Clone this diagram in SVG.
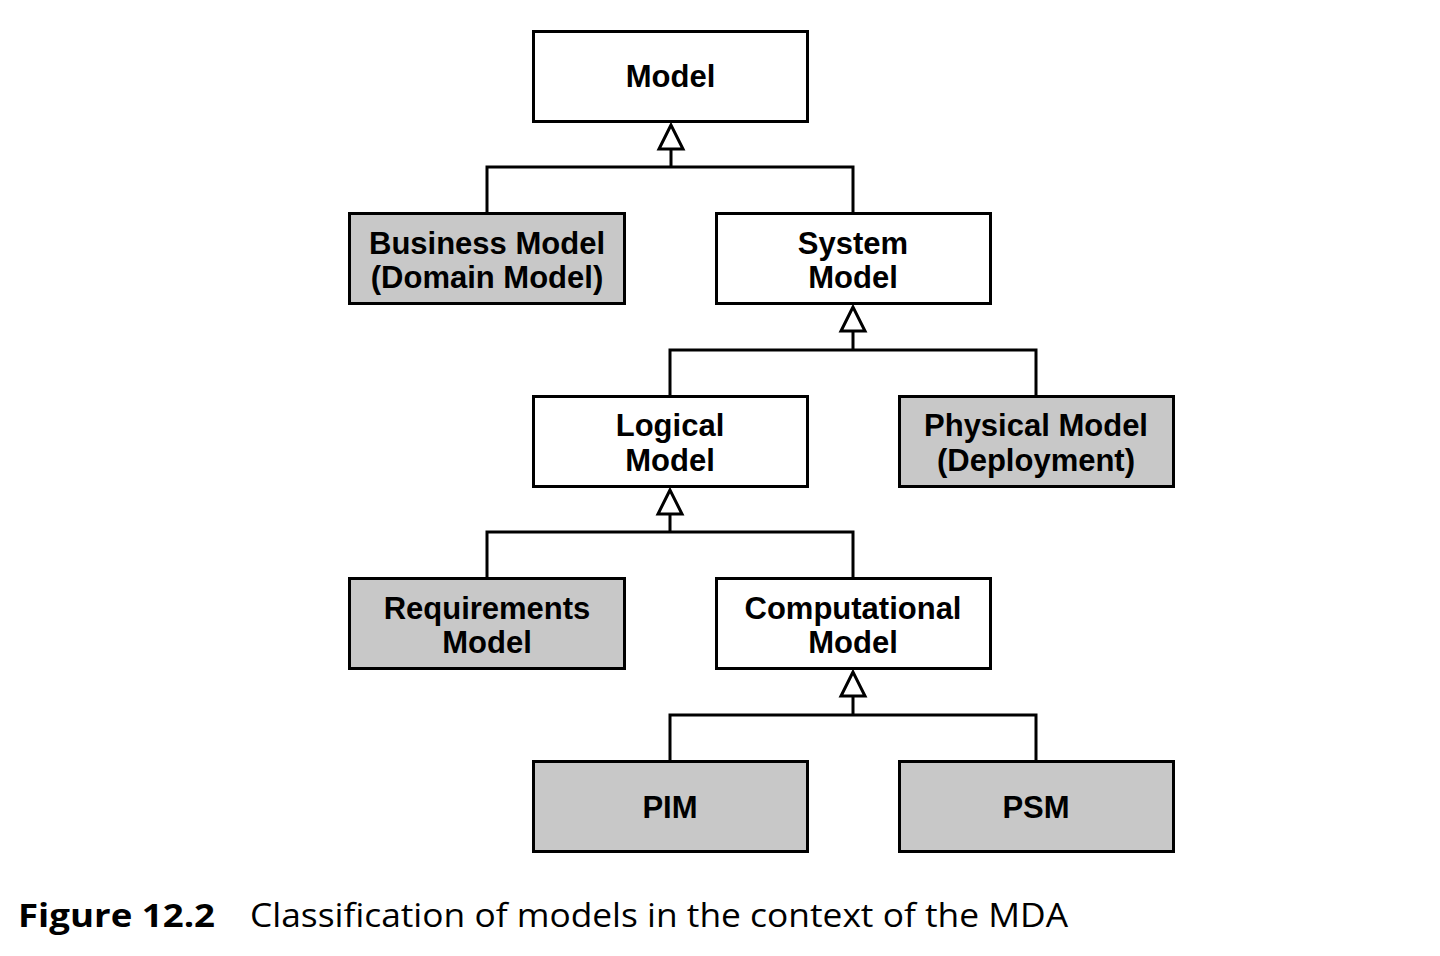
<svg xmlns="http://www.w3.org/2000/svg" width="1440" height="956" viewBox="0 0 1440 956">
<style>
.box{stroke:#000;stroke-width:3;}
.w{fill:#fff;}
.g{fill:#c8c8c8;}
.t{font-family:"Liberation Sans",Arial,Helvetica,sans-serif;font-weight:bold;font-size:31px;text-anchor:middle;fill:#000;}
.c{fill:none;stroke:#000;stroke-width:3;}
.ah{fill:#fff;stroke:#000;stroke-width:3;stroke-linejoin:miter;}
.cap{font-family:"Open Sans","Noto Sans","Liberation Sans",sans-serif;font-size:32px;fill:#000;}
</style>
<rect width="1440" height="956" fill="#fff"/>
<g id="connectors">
<path class="c" d="M671,149 V167 M487,213 V167 H853 V213"/>
<polygon class="ah" points="671,125 659,149 683,149"/>
<path class="c" d="M853,331 V350 M670,396 V350 H1036 V396"/>
<polygon class="ah" points="853,307 841,331 865,331"/>
<path class="c" d="M670,514 V532 M487,578 V532 H853 V578"/>
<polygon class="ah" points="670,490 658,514 682,514"/>
<path class="c" d="M853,696 V715 M670,761 V715 H1036 V761"/>
<polygon class="ah" points="853,672 841,696 865,696"/>
</g>
<g id="model"><rect class="box w" x="533.5" y="31.5" width="274" height="90"/><text class="t" x="670.5" y="87">Model</text></g>
<g id="business"><rect class="box g" x="349.5" y="213.5" width="275" height="90"/><text class="t" x="487" y="254">Business Model</text><text class="t" x="487" y="288">(Domain Model)</text></g>
<g id="system"><rect class="box w" x="716.5" y="213.5" width="274" height="90"/><text class="t" x="853" y="254">System</text><text class="t" x="853" y="288">Model</text></g>
<g id="logical"><rect class="box w" x="533.5" y="396.5" width="274" height="90"/><text class="t" x="670" y="436">Logical</text><text class="t" x="670" y="471">Model</text></g>
<g id="physical"><rect class="box g" x="899.5" y="396.5" width="274" height="90"/><text class="t" x="1036" y="436">Physical Model</text><text class="t" x="1036" y="471">(Deployment)</text></g>
<g id="requirements"><rect class="box g" x="349.5" y="578.5" width="275" height="90"/><text class="t" x="487" y="619">Requirements</text><text class="t" x="487" y="653">Model</text></g>
<g id="computational"><rect class="box w" x="716.5" y="578.5" width="274" height="90"/><text class="t" x="853" y="619">Computational</text><text class="t" x="853" y="653">Model</text></g>
<g id="pim"><rect class="box g" x="533.5" y="761.5" width="274" height="90"/><text class="t" x="670" y="818">PIM</text></g>
<g id="psm"><rect class="box g" x="899.5" y="761.5" width="274" height="90"/><text class="t" x="1036" y="818">PSM</text></g>
<g id="caption">
<text class="cap" x="18" y="927" font-weight="bold" textLength="197" lengthAdjust="spacingAndGlyphs">Figure 12.2</text>
<text class="cap" x="250" y="927" textLength="818" lengthAdjust="spacingAndGlyphs">Classification of models in the context of the MDA</text>
</g>
</svg>
